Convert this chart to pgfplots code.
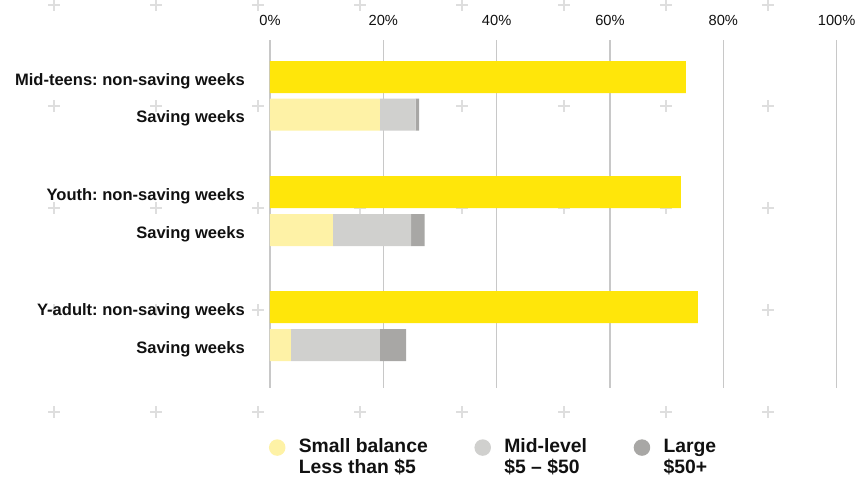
\documentclass[border=0pt]{standalone}
\usepackage{fontspec}
\setmainfont{Liberation Sans}
\usepackage{pgfplots}
\pgfplotsset{compat=1.18}
\definecolor{cyel}{HTML}{FFE60A}
\definecolor{clyel}{HTML}{FEF2A6}
\definecolor{cmid}{HTML}{D0D0CE}
\definecolor{cdark}{HTML}{A8A7A5}
\definecolor{cgrid}{HTML}{C8C8C8}
\definecolor{cplus}{HTML}{DEDEDE}
\definecolor{ctext}{HTML}{111111}
\pgfplotsset{circ legend/.style={legend image code/.code={\fill[##1] (6.2pt,-0.7pt) circle (6.2pt);}}}
\frenchspacing
\begin{document}
\frenchspacing
\begin{tikzpicture}
\useasboundingbox (0,0) rectangle (645pt,-359.25pt);
\begin{scope}[x=0.75pt,y=-0.75pt]
\foreach \xx in {54,156,258,360,462,564,666,768}{
 \foreach \yy in {5,106,208,310,412}{
  \draw[cplus, line width=1.1pt] (\xx-6,\yy) -- (\xx+6,\yy) (\xx,\yy-6) -- (\xx,\yy+6);
 }}
\end{scope}
\begin{axis}[
 at={(202.5pt,-291pt)}, anchor=south west,
 scale only axis, width=425pt, height=261pt,
 xmin=0, xmax=100, ymin=40, ymax=388, y dir=reverse,
 xbar stacked, bar width=24pt,
 axis line style={draw=none},
 major tick length=0pt,
 xtick={0,20,40,60,80,100},
 xticklabels={0\%,20\%,40\%,60\%,80\%,100\%},
 xticklabel pos=upper,
 xmajorgrids, grid style={cgrid, line width=0.95pt},
 ytick={77,114.5,192,230,307,345},
 yticklabels={Mid-teens: non-saving weeks, Saving weeks, Youth: non-saving weeks, Saving weeks, Y-adult: non-saving weeks, Saving weeks},
 xticklabel style={anchor=base, inner sep=0pt, yshift=10.8pt, font=\fontsize{11}{12}\selectfont, text=ctext},
 yticklabel style={anchor=base east, inner sep=0pt, xshift=-18.75pt, yshift=-6pt, font=\fontsize{12.4}{14}\selectfont\bfseries\frenchspacing, text=ctext},
 legend style={draw=none, fill=none, inner sep=0pt, at={(axis description cs:-0.0023,-0.1437)}, anchor=north west,
   font=\fontsize{14.5}{15.75}\selectfont\bfseries, text=ctext, nodes={inner sep=0pt},
   /tikz/every even column/.append style={column sep=35pt},
   /tikz/every odd column/.append style={column sep=10pt}},
 legend columns=3,
 legend cell align=left,
]
\addplot[fill=clyel, draw=none, circ legend] coordinates {(0,77) (19.4,114.5) (0,192) (11.1,230) (0,307) (3.7,345)};
\addlegendentry{{\begin{tabular}[t]{@{}l@{}}Small balance\\Less than \$5\end{tabular}}}
\addplot[fill=cmid, draw=none, circ legend] coordinates {(0,77) (6.3,114.5) (0,192) (13.8,230) (0,307) (15.7,345)};
\addlegendentry{{\begin{tabular}[t]{@{}l@{}}Mid-level\\\$5 -- \$50\end{tabular}}}
\addplot[fill=cdark, draw=none, circ legend] coordinates {(0,77) (0.6,114.5) (0,192) (2.4,230) (0,307) (4.6,345)};
\addlegendentry{{\begin{tabular}[t]{@{}l@{}}Large\\\$50+\end{tabular}}}
\addplot[fill=cyel, draw=none] coordinates {(73.4,77) (0,114.5) (72.5,192) (0,230) (75.5,307) (0,345)};
\end{axis}
\end{tikzpicture}
\end{document}
